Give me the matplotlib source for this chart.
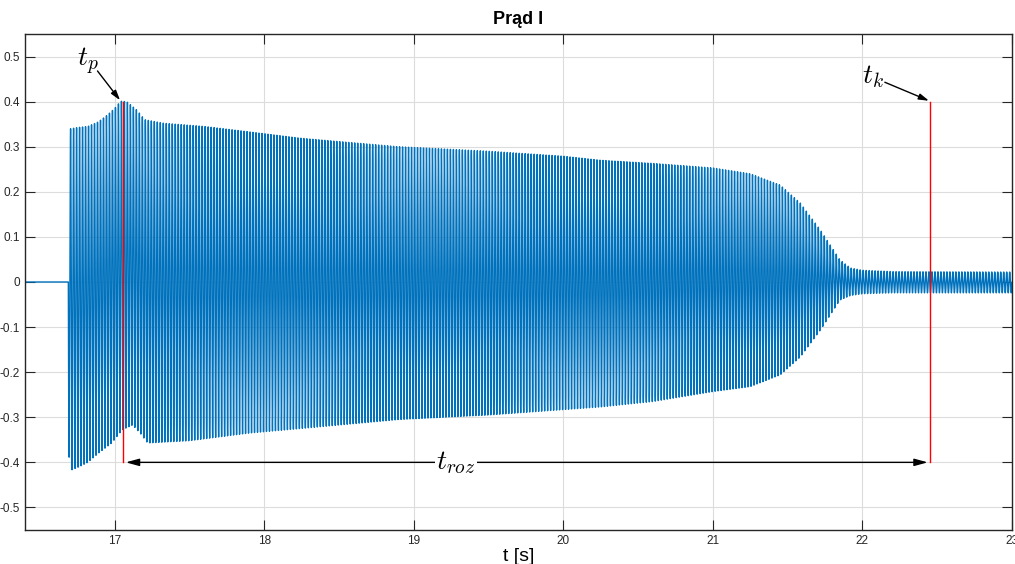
# Prąd I - przebieg prądu z zaznaczonym czasem rozruchu
import numpy as np
import matplotlib
matplotlib.use('Agg')
import matplotlib.pyplot as plt

plt.rcParams['font.family'] = ['Liberation Sans', 'DejaVu Sans']
plt.rcParams['mathtext.fontset'] = 'cm'

# obwiednia
t_start = 16.69
freq = 50.0
up_t = [16.69, 16.76, 16.82, 16.89, 16.95, 17.00, 17.04, 17.08, 17.15, 17.20, 17.33,
        17.6, 17.9, 18.24, 18.9, 19.5, 20.0, 20.25, 20.6, 21.0, 21.25, 21.45,
        21.585, 21.72, 21.85, 21.92, 22.0, 22.2, 23.0]
up_v = [0.339, 0.343, 0.345, 0.355, 0.37, 0.385, 0.401, 0.400, 0.381, 0.36, 0.352,
        0.345, 0.333, 0.319, 0.30, 0.29, 0.279, 0.27, 0.263, 0.253, 0.24, 0.215,
        0.175, 0.115, 0.049, 0.031, 0.026, 0.023, 0.022]
lo_t = [16.69, 16.71, 16.76, 16.82, 16.89, 16.98, 17.05, 17.12, 17.17, 17.22, 17.5,
        17.9, 18.24, 18.9, 19.5, 20.0, 20.25, 20.6, 21.0, 21.25, 21.45, 21.585,
        21.72, 21.85, 21.92, 22.0, 22.2, 23.0]
lo_v = [-0.379, -0.417, -0.41, -0.40, -0.38, -0.357, -0.328, -0.317, -0.335, -0.357, -0.352,
        -0.335, -0.325, -0.305, -0.295, -0.283, -0.277, -0.265, -0.243, -0.232, -0.206, -0.166,
        -0.106, -0.04, -0.03, -0.026, -0.024, -0.024]

t_p = 17.056
t_k = 22.455
y_marker = 0.4
y_troz = -0.4

xticks = [17, 18, 19, 20, 21, 22, 23]
yticks = [-0.5, -0.4, -0.3, -0.2, -0.1, 0, 0.1, 0.2, 0.3, 0.4, 0.5]
ytick_labels = ['-0.5', '-0.4', '-0.3', '-0.2', '-0.1', '0', '0.1', '0.2', '0.3', '0.4', '0.5']


def build_signal():
    t = np.arange(16.4, 23.0, 1 / 2000)
    up = np.interp(t, up_t, up_v)
    lo = np.interp(t, lo_t, lo_v)
    mid = (up + lo) / 2
    amp = (up - lo) / 2
    i = mid - amp * np.sin(2 * np.pi * freq * (t - t_start))
    i[t < t_start] = 0
    return t, i


def main():
    t, i = build_signal()
    fig = plt.figure(figsize=(10.15, 5.64), dpi=100)
    ax = fig.add_axes([0.0246, 0.0603, 0.9724, 0.8794])

    ax.plot(t, i, color='#0072BD', linewidth=1.0)
    ax.plot([t_p, t_p], [y_troz, y_marker], color='r', linewidth=1)
    ax.plot([t_k, t_k], [y_troz, y_marker], color='r', linewidth=1)

    head = '-|>,head_length=0.6,head_width=0.18'
    ax.annotate('', xy=(t_k, y_troz), xytext=(t_p, y_troz),
                arrowprops=dict(arrowstyle='<|-|>,head_length=0.8,head_width=0.22',
                                color='k', lw=1, shrinkA=2, shrinkB=2))
    ax.text(19.28, y_troz, r'$t_{roz}$', fontsize=20, ha='center', va='center',
            bbox=dict(facecolor='white', edgecolor='none', pad=1))

    ax.text(16.82, 0.49, r'$t_p$', fontsize=20, ha='center', va='center')
    ax.annotate('', xy=(t_p - 0.02, y_marker + 0.003), xytext=(16.885, 0.468),
                arrowprops=dict(arrowstyle=head, color='k', lw=1, shrinkA=0, shrinkB=0))
    ax.text(22.07, 0.455, r'$t_k$', fontsize=20, ha='center', va='center')
    ax.annotate('', xy=(t_k - 0.01, y_marker + 0.002), xytext=(22.15, 0.443),
                arrowprops=dict(arrowstyle=head, color='k', lw=1, shrinkA=0, shrinkB=0))

    ax.set_xlim(16.4, 23.0)
    ax.set_ylim(-0.55, 0.55)
    ax.set_xticks(xticks)
    ax.set_yticks(yticks)
    ax.set_yticklabels(ytick_labels)
    ax.grid(True, color='#dcdcdc', linewidth=0.8)
    ax.set_axisbelow(True)
    ax.tick_params(direction='in', length=7, width=0.8, labelsize=8.5,
                   colors='#262626', top=True, right=True)
    for s in ax.spines.values():
        s.set_color('#262626')
        s.set_linewidth(1)

    ax.set_title('Prąd I', fontsize=13, fontweight='bold', pad=7)
    ax.set_xlabel('t [s]', fontsize=14, labelpad=1)

    fig.savefig('out.png', dpi=100)


if __name__ == '__main__':
    main()
